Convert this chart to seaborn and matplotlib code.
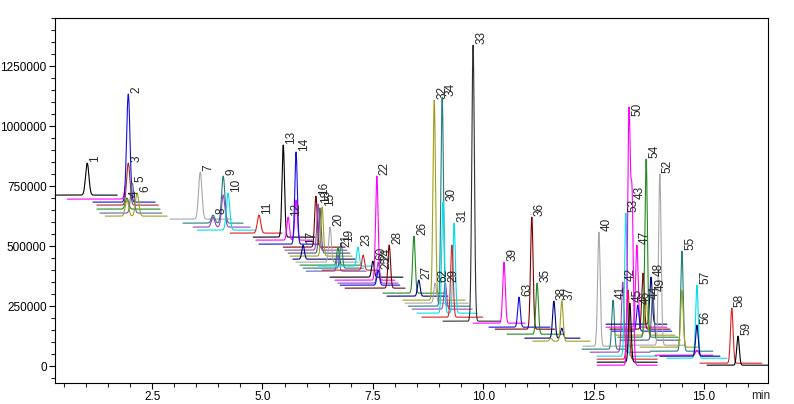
import numpy as np
import pandas as pd
import matplotlib
matplotlib.use("Agg")
import matplotlib.pyplot as plt
import seaborn as sns
from matplotlib.ticker import MultipleLocator, FormatStrFormatter

# ---------------- data ----------------
trace_colors = [
    "#000000", "#ff00ff", "#1010e0", "#a03030", "#228b22", "#5a6aa0", "#a0a020",
    "#a8a8a8", "#207f7f", "#a040c0", "#00e0f0",
    "#e02020", "#000000", "#ff00ff", "#1010e0", "#800000", "#a040c0", "#4a5a80",
    "#a0a020", "#000080", "#a8a8a8", "#228b22", "#207f7f", "#6a5acd",
    "#00e0f0", "#e02020", "#000000", "#ff00ff", "#a040c0", "#1010e0", "#800000",
    "#228b22", "#000080", "#a0a020", "#a8a8a8", "#207f7f", "#a040c0", "#00e0f0",
    "#e02020", "#303030",
    "#ff00ff", "#1010e0", "#800000", "#228b22", "#000080", "#a0a020",
    "#a8a8a8", "#207f7f", "#000080", "#ff00ff", "#800000", "#1010e0", "#a0a020",
    "#228b22", "#4a5a80", "#a8a8a8", "#a040c0", "#00e0f0", "#e02020", "#000000",
    "#ff00ff", "#207f7f", "#a0a020", "#ff00ff", "#00e0f0", "#000080", "#e02020",
    "#000000",
]
trace_start = [
    0.30, 0.58, 1.16, 1.25, 1.25, 1.32, 1.44,
    2.91, 3.20, 3.43, 3.52,
    4.27, 4.79, 4.85, 4.92, 5.47, 5.51, 5.58, 5.62, 5.69, 5.76, 5.85, 5.92, 5.99,
    6.26, 6.35, 6.53, 6.64, 6.71, 6.76, 6.87, 7.73, 7.82, 8.18, 8.23, 8.30, 8.39,
    8.50, 8.61, 9.09,
    9.77, 10.13, 10.27, 10.54, 10.94, 11.12,
    12.26, 12.24, 12.78, 12.78, 12.87, 12.92, 12.98, 13.05, 13.10, 13.21, 12.42,
    12.58, 12.58, 12.58, 12.58, 13.78, 13.55, 13.89, 14.16, 14.00, 14.91, 15.07,
]
trace_end = [
    1.71, 1.89, 2.57, 2.64, 2.68, 2.72, 2.84,
    4.31, 4.56, 4.72, 4.83,
    5.44, 6.19, 6.12, 6.30, 6.87, 6.91, 6.98, 7.03, 7.10, 7.16, 7.21, 7.28, 7.35,
    7.48, 7.62, 8.18, 8.00, 8.07, 8.11, 8.23, 9.13, 9.20, 9.59, 9.66, 9.70, 9.75,
    9.86, 9.99, 10.38,
    10.95, 11.51, 11.62, 11.81, 12.19, 12.42,
    13.37, 13.21, 14.16, 14.16, 14.23, 14.27, 14.34, 14.41, 14.46, 14.57, 13.78,
    13.94, 13.94, 13.94, 13.94, 15.20, 14.90, 15.20, 15.52, 15.36, 16.31, 16.45,
]
trace_base = [
    712500, 695800, 683300, 670800, 654200, 637500, 625000,
    612500, 595800, 579200, 566700,
    554200, 537500, 525000, 508300, 495800, 483300, 470800, 458300, 445800,
    433300, 420800, 408300, 395800,
    416700, 400000, 370800, 358300, 345800, 337500, 325000, 304200, 291700,
    275000, 262500, 250000, 237500, 220800, 204200, 187500,
    179200, 162500, 154200, 133300, 116700, 104200,
    83300, 70800, 175000, 162500, 154200, 145800, 129200, 120800, 108300, 87500,
    58300, 41700, 29200, 16700, 4200, 62500, 79200, 45800, 33300, 41700, 12500,
    4200,
]

peak_trace = [
    0, 1, 2, 3, 4, 5, 6, 6,
    7, 8, 8, 9, 9, 10,
    11, 12, 13, 13, 14, 15, 16, 17, 18, 19, 20, 21, 22, 23,
    24, 25, 26, 27, 28, 29, 30, 31, 32, 33, 34, 35, 36, 37, 37, 38, 39,
    40, 41, 42, 43, 44, 44, 45, 45,
    46, 47, 48, 49, 50, 51, 52, 53, 54, 55, 56, 57, 58, 59, 60, 60,
    61, 62, 63, 64, 65, 66, 67,
]
peak_rt = [
    1.03, 1.93, 1.96, 1.96, 1.93, 2.05, 1.93, 2.16,
    3.59, 3.88, 4.11, 3.88, 4.11, 4.22,
    4.92, 5.47, 5.58, 5.76, 5.76, 6.21, 6.26, 6.30, 6.35, 5.92, 6.53, 6.71,
    6.78, 6.71,
    7.16, 7.28, 7.50, 7.59, 7.62, 7.62, 7.87, 8.43, 8.54, 8.89, 8.91, 9.07,
    9.14, 9.09, 9.34, 9.29, 9.77,
    10.47, 10.81, 11.10, 11.22, 11.60, 11.78, 11.78, 11.53,
    12.62, 12.94, 13.80, 13.48, 13.62, 13.50, 13.69, 13.69, 13.84, 14.00,
    13.16, 13.23, 13.28, 13.32, 13.30, 13.37,
    14.50, 14.50, 14.84, 14.84, 14.84, 15.63, 15.77,
]
peak_apex = [
    845800, 795800, 1133300, 845800, 700000, 762500, 691700, 720800,
    808300, 629200, 791700, 620800, 712500, 720800,
    629200, 920800, 620800, 691700, 891700, 708300, 675000, 658300, 662500,
    504200, 579200, 491700, 512500, 462500,
    495800, 462500, 437500, 791700, 433300, 400000, 504200, 541700, 358300,
    1108300, 345800, 1120800, 345800, 683300, 595800, 504200, 1337500,
    433300, 287500, 620800, 345800, 270800, 158300, 270800, 116700,
    558300, 275000, 370800, 504200, 387500, 254200, 275000, 862500, 308300,
    800000, 350000, 637500, 316700, 262500, 1037500, 691700,
    479200, 316700, 66700, 337500, 170800, 241700, 125000,
]
peak_label = [
    "1", "", "2", "3", "4", "5", "", "6",
    "7", "8", "9", "", "", "10",
    "11", "13", "12", "", "14", "16", "18", "", "15", "17", "20", "21", "19", "",
    "23", "", "60", "22", "24", "25", "28", "26", "27", "32", "62", "34", "29",
    "30", "31", "", "33",
    "39", "63", "36", "35", "38", "", "37", "",
    "40", "41", "48", "47", "", "46", "44", "54", "49", "52", "42", "53", "",
    "45", "50", "43",
    "55", "", "", "57", "56", "58", "59",
]

x_ticks_major = 2.5
y_ticks_major = 250000

# ---------------- build curves ----------------
frames = []
for i, (s, e, b) in enumerate(zip(trace_start, trace_end, trace_base)):
    t = np.linspace(s, e, 600)
    v = np.full_like(t, float(b))
    for pt, rt, ap in zip(peak_trace, peak_rt, peak_apex):
        if pt == i:
            sig = 0.038 if rt < 5 else 0.029
            v = v + (ap - b) * np.exp(-0.5 * ((t - rt) / sig) ** 2)
    frames.append(pd.DataFrame({"t": t, "v": v, "trace": f"T{i:02d}"}))
df = pd.concat(frames, ignore_index=True)
palette = {f"T{i:02d}": c for i, c in enumerate(trace_colors)}

# ---------------- plot ----------------
sns.set_style("ticks")
plt.rcParams["font.family"] = ["Liberation Sans", "DejaVu Sans"]

fig = plt.figure(figsize=(7.94, 4.04), dpi=100)
ax = fig.add_axes([55 / 794, 21 / 404, 713 / 794, 365 / 404])

sns.lineplot(data=df, x="t", y="v", hue="trace", palette=palette,
             estimator=None, sort=False, legend=False, lw=0.8, ax=ax)

for rt, ap, lab in zip(peak_rt, peak_apex, peak_label):
    if lab:
        ax.annotate(lab, (rt, ap), xytext=(1.5, 1), textcoords="offset points",
                    rotation=90, ha="left", va="bottom", fontsize=8.5)

ax.set_xlim(0.30, 16.45)
ax.set_ylim(-70000, 1450000)
ax.xaxis.set_major_locator(MultipleLocator(x_ticks_major))
ax.xaxis.set_minor_locator(MultipleLocator(0.5))
ax.xaxis.set_major_formatter(FormatStrFormatter("%.1f"))
ax.yaxis.set_major_locator(MultipleLocator(y_ticks_major))
ax.yaxis.set_minor_locator(MultipleLocator(50000))
ax.yaxis.set_major_formatter(FormatStrFormatter("%d"))
ax.tick_params(which="major", direction="out", length=4, width=0.8,
               labelsize=8.5, pad=2, colors="black")
ax.tick_params(which="minor", direction="out", length=3, width=0.8)
for sp in ax.spines.values():
    sp.set_visible(True)
    sp.set_linewidth(0.8)
    sp.set_color("black")
ax.set_xlabel("")
ax.set_ylabel("")
ax.annotate("min", xy=(0.99, 0), xycoords="axes fraction", xytext=(0, -5),
            textcoords="offset points", ha="center", va="top", fontsize=8.5)

fig.savefig("out.png", dpi=100)
